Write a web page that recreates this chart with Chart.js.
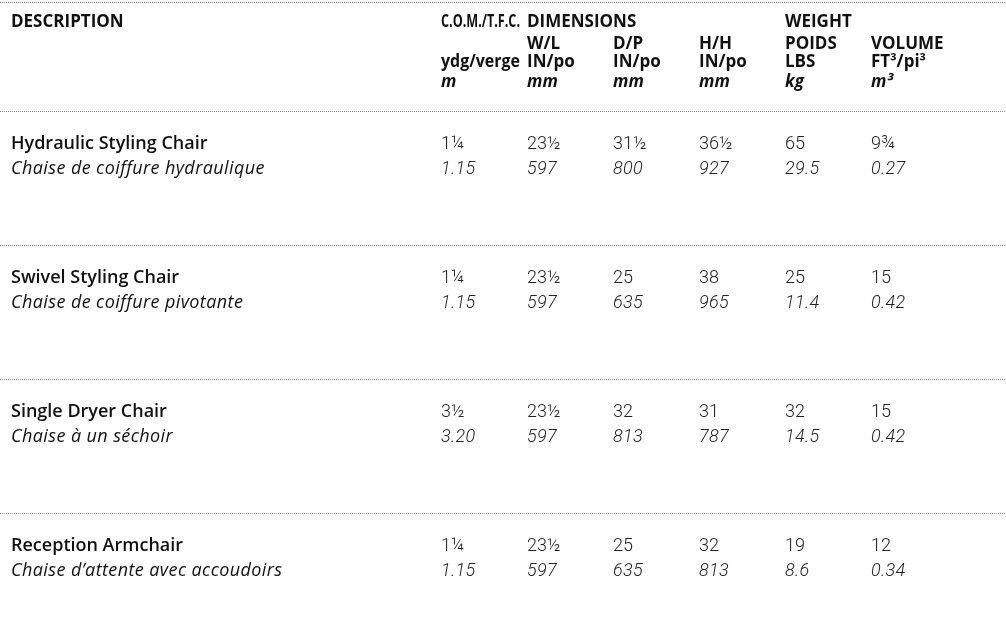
<!DOCTYPE html>
<html>
<head>
<meta charset="utf-8">
<script src="https://cdn.jsdelivr.net/npm/chart.js@4.4.1/dist/chart.umd.min.js"></script>
<style>
  html, body { margin: 0; padding: 0; background: #fff; }
  canvas { display: block; }
</style>
</head>
<body>
<canvas id="specChart" width="1006" height="640"></canvas>
<script>
// header labels, one array per header line, plus the column slot each sits in
const headerLine1 = ['DESCRIPTION', 'C.O.M./T.F.C.', 'DIMENSIONS', 'WEIGHT'];
const headerLine1Cols = [0, 5, 6, 9];
const headerLine2 = ['W/L', 'D/P', 'H/H', 'POIDS', 'VOLUME'];
const headerLine2Cols = [6, 7, 8, 9, 10];
const headerLine3 = ['ydg/verge', 'IN/po', 'IN/po', 'IN/po', 'LBS', 'FT³/pi³'];
const headerLine3Cols = [5, 6, 7, 8, 9, 10];
const headerLine4 = ['m', 'mm', 'mm', 'mm', 'kg', 'm³'];
const headerLine4Cols = [5, 6, 7, 8, 9, 10];

// products (english / french)
const productsEn = ['Hydraulic Styling Chair', 'Swivel Styling Chair', 'Single Dryer Chair', 'Reception Armchair'];
const productsFr = ['Chaise de coiffure hydraulique', 'Chaise de coiffure pivotante', 'Chaise à un séchoir', 'Chaise d’attente avec accoudoirs'];

// values per column: imperial line and metric line
const comYdg = ['1¼', '1¼', '3½', '1¼'];
const comM = [1.15, 1.15, 3.20, 1.15];
const widthIn = ['23½', '23½', '23½', '23½'];
const widthMm = [597, 597, 597, 597];
const depthIn = ['31½', '25', '32', '25'];
const depthMm = [800, 635, 813, 635];
const heightIn = ['36½', '38', '31', '32'];
const heightMm = [927, 965, 787, 813];
const weightLbs = ['65', '25', '32', '19'];
const weightKg = [29.5, 11.4, 14.5, 8.6];
const volumeFt3 = ['9¾', '15', '15', '12'];
const volumeM3 = [0.27, 0.42, 0.42, 0.34];

// layout: x is a column slot, y is a table row (row i starts at its dotted rule)
const SLOT_PX = 86;
const ROW_PX = 134;
const headerLineY = [-0.627, -0.463, -0.328, -0.179];
const EN_Y = 0.28;
const FR_Y = 0.47;
const ruleRows = [-0.813, 0, 1, 2, 3];

const valueColumns = [
    { slot: 5, imp: comYdg, met: comM, dec: 2 },
    { slot: 6, imp: widthIn, met: widthMm, dec: 0 },
    { slot: 7, imp: depthIn, met: depthMm, dec: 0 },
    { slot: 8, imp: heightIn, met: heightMm, dec: 0 },
    { slot: 9, imp: weightLbs, met: weightKg, dec: 1 },
    { slot: 10, imp: volumeFt3, met: volumeM3, dec: 2 }
];

function headerCells(labels, cols, y) {
    return labels.map((t, i) => ({ x: cols[i], y: y, t: t }));
}

const boldHeader = [].concat(
    headerCells(headerLine1, headerLine1Cols, headerLineY[0]),
    headerCells(headerLine2, headerLine2Cols, headerLineY[1]),
    headerCells(headerLine3, headerLine3Cols, headerLineY[2])
);
const unitHeader = headerCells(headerLine4, headerLine4Cols, headerLineY[3]);
const nameEnCells = productsEn.map((t, r) => ({ x: 0, y: r + EN_Y, t: t }));
const nameFrCells = productsFr.map((t, r) => ({ x: 0, y: r + FR_Y, t: t }));

const impCells = [];
const metCells = [];
valueColumns.forEach(col => {
    col.imp.forEach((v, r) => impCells.push({ x: col.slot, y: r + EN_Y, t: v }));
    col.met.forEach((v, r) => metCells.push({ x: col.slot, y: r + FR_Y, t: v.toFixed(col.dec) }));
});

function textSet(data, font, color, extra) {
    return Object.assign({ data: data, font: font, color: color, pointRadius: 0, showLine: false }, extra || {});
}

// draws each point's text at the pixel the scales give it
const cellText = {
    id: 'cellText',
    afterDatasetsDraw(chart) {
        const ctx = chart.ctx;
        chart.data.datasets.forEach((ds, di) => {
            const meta = chart.getDatasetMeta(di);
            ctx.save();
            ctx.font = ds.font;
            ctx.fillStyle = ds.color;
            ctx.textAlign = 'left';
            ctx.textBaseline = 'alphabetic';
            ctx.letterSpacing = ds.spacing || '0px';
            meta.data.forEach((el, i) => {
                const text = ds.data[i].t;
                if (ds.fit) {
                    // squeeze a label so it stops short of the next label on its line
                    let next = Infinity;
                    meta.data.forEach(o => {
                        if (Math.abs(o.y - el.y) < 1 && o.x > el.x) next = Math.min(next, o.x);
                    });
                    if (next < Infinity) {
                        ctx.fillText(text, el.x, el.y, next - el.x - 7);
                        return;
                    }
                }
                ctx.fillText(text, el.x, el.y);
            });
            ctx.restore();
        });
    }
};

new Chart(document.getElementById('specChart'), {
    type: 'scatter',
    data: {
        datasets: [
            textSet(boldHeader, '700 17px "Open Sans"', '#111', { fit: true }),
            textSet(unitHeader, 'italic 700 17px "Open Sans"', '#111'),
            textSet(nameEnCells, '600 18px "Open Sans"', '#111'),
            textSet(nameFrCells, 'italic 400 18px "Open Sans"', '#111', { spacing: '0.4px' }),
            textSet(impCells, '300 18px Roboto', '#222'),
            textSet(metCells, 'italic 300 18px Roboto', '#222', { spacing: '0.3px' })
        ]
    },
    plugins: [cellText],
    options: {
        responsive: false,
        animation: false,
        events: [],
        layout: { padding: 0 },
        plugins: { legend: { display: false }, tooltip: { enabled: false } },
        scales: {
            x: {
                type: 'linear',
                display: false,
                min: -11 / SLOT_PX,
                max: (1006 - 11) / SLOT_PX
            },
            y: {
                type: 'linear',
                reverse: true,
                min: -111 / ROW_PX,
                max: (640 - 111) / ROW_PX,
                ticks: { display: false },
                border: { display: false, dash: [1, 1] },
                grid: { drawTicks: false, color: '#8a8a8a', lineWidth: 1 },
                afterBuildTicks(scale) {
                    scale.ticks = ruleRows.map(v => ({ value: v }));
                }
            }
        }
    }
});
</script>
</body>
</html>
